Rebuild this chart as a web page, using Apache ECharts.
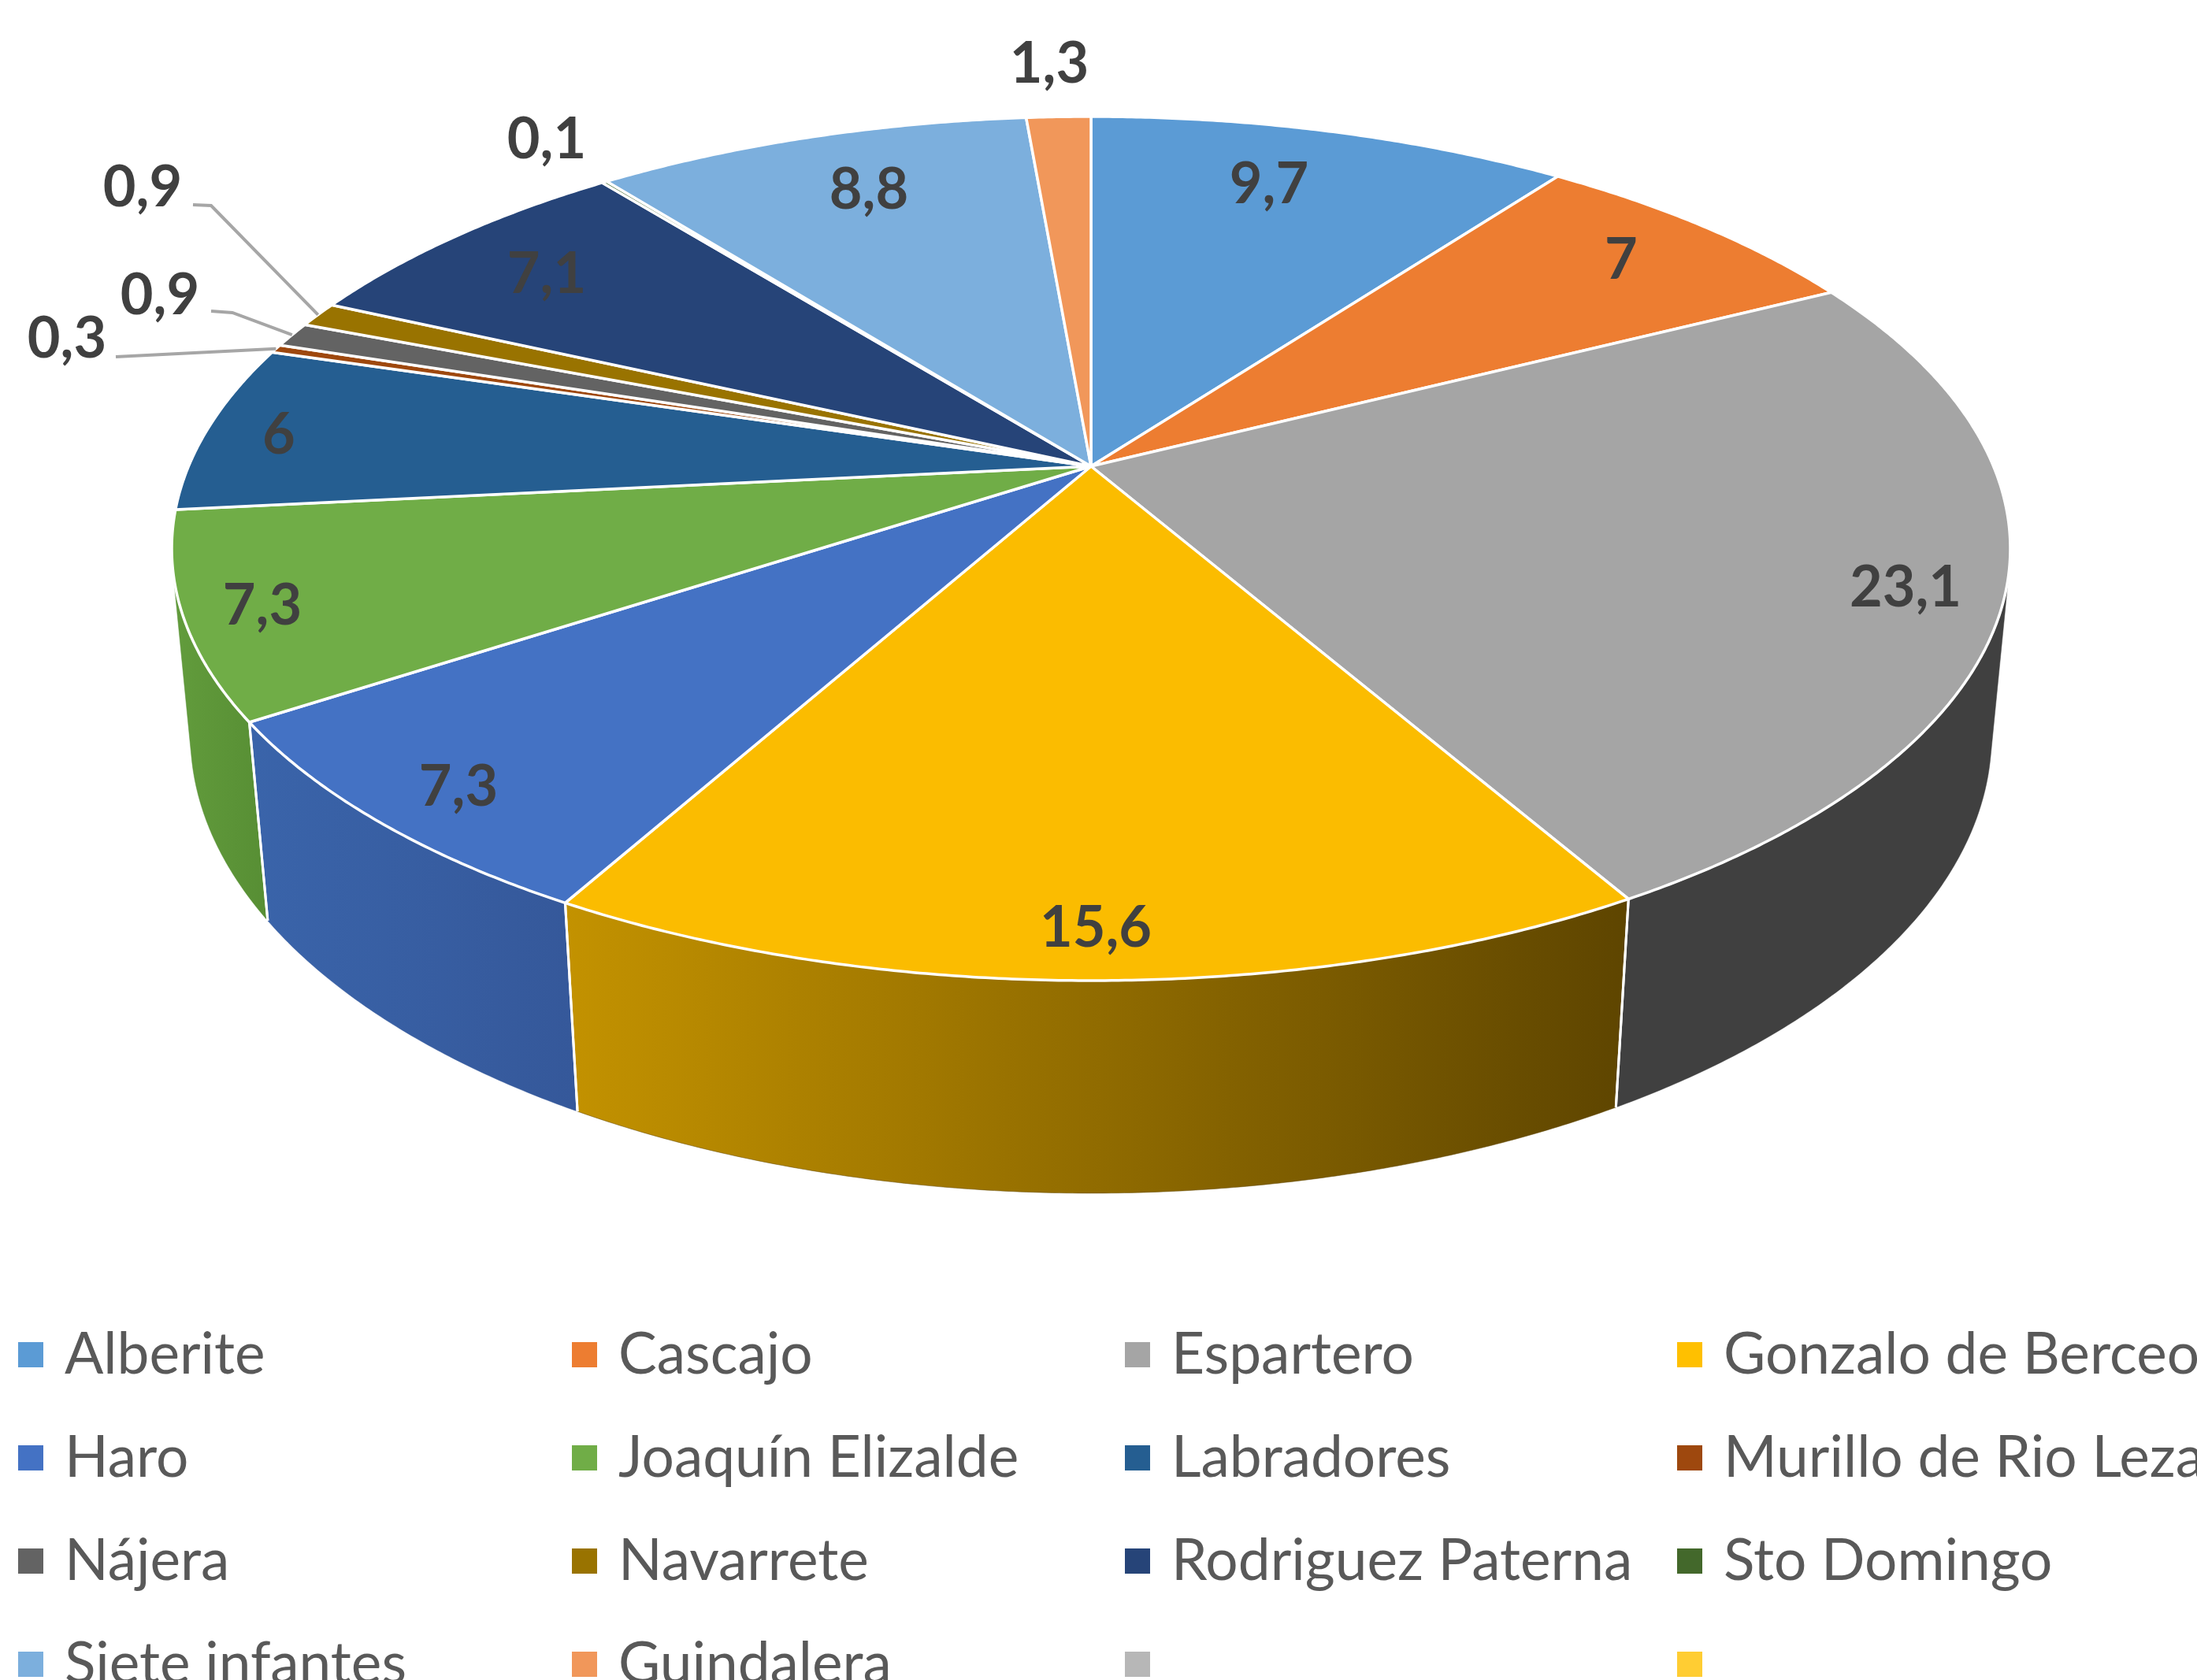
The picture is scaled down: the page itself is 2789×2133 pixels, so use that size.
<!DOCTYPE html>
<html><head><meta charset="utf-8">
<style>html,body{margin:0;padding:0;background:#fff;overflow:hidden}#c{width:2789px;height:2133px}</style>
<script src="https://cdn.jsdelivr.net/npm/echarts@6/dist/echarts.min.js"></script>
</head><body><div id="c"></div>
<script>
const categories = ['Alberite','Cascajo','Espartero','Gonzalo de Berceo','Haro','Joaquín Elizalde','Labradores','Murillo de Rio Leza','Nájera','Navarrete','Rodriguez Paterna','Sto Domingo','Siete infantes','Guindalera'];
const values = [9.7,7,23.1,15.6,7.3,7.3,6,0.3,0.9,0.9,7.1,0.1,8.8,1.3];
const blankLegendNames = ['\u00A0','\u00A0\u00A0'];
const blankLegendColors = ['#B7B7B7','#FFCD33'];

const topColors = ['#5B9BD5','#ED7D31','#A5A5A5','#FBBC00','#4472C4','#70AD47','#255E91','#9E480E','#636363','#997300','#264478','#43682B','#7CAFDD','#F1975A'];
const legendColors = ['#5B9BD5','#ED7D31','#A5A5A5','#FFC000','#4472C4','#70AD47','#255E91','#9E480E','#636363','#997300','#264478','#43682B','#7CAFDD','#F1975A'];
const wallLeft  = ['#4A7FAE','#C26628','#404040','#C39200','#3A64AA','#629C3C','#1E4D77','#813B0C','#515151','#7D5E00','#1F3862','#375523','#6590B5','#C57B4A'];
const wallRight = ['#4A7FAE','#C26628','#404040','#5E4500','#35589A','#578E34','#1E4D77','#813B0C','#515151','#7D5E00','#1F3862','#375523','#6590B5','#C57B4A'];

// perspective of the pie disc
const CX=1385, CY=592, A=1145.6, B=528.6, K=0.1905, DEPTH=237, DW=0.02;
const total = values.reduce((s,v)=>s+v,0);
// the wall is seen only between the two tangents from the vertical vanishing point
const VIS_R = Math.acos(-(DW*B/DEPTH + K)), VIS_L = 2*Math.PI - VIS_R;
function proj(t, r, low){
  const X=r*Math.sin(t), Y=-r*Math.cos(t), w=1-K*Y+(low?DW:0);
  return [CX+A*X/w, CY+(B*Y+(low?DEPTH:0))/w];
}
function arc(t0,t1,r,low){
  const n=Math.max(2,Math.ceil((t1-t0)/0.006)), p=[];
  for(let i=0;i<=n;i++) p.push(proj(t0+(t1-t0)*i/n,r,low));
  return p;
}
const labelAnchors = [[1611,235],[2058,331],[2419,747],[1391,1179],[582,1000],[333,770],[354,553],[85,431],[203,376],[181,239],[694,349],[694,178],[1103,242],[1332,82]];
const leaders = {7:[[147,453]], 8:[[268,395],[295,397]], 9:[[245,260],[268,261]]};
const legendColumns = [
  [categories[0],categories[4],categories[8],categories[12]],
  [categories[1],categories[5],categories[9],categories[13]],
  [categories[2],categories[6],categories[10],blankLegendNames[0]],
  [categories[3],categories[7],categories[11],blankLegendNames[1]]
];
const legendLeft = [23,726,1428,2129];

let cum=0;
const series = categories.map((name,i)=>{
  const start=cum; cum+=values[i];
  return {
    type:'custom', name, coordinateSystem:'none', silent:true, animation:false, clip:false,
    itemStyle:{color:legendColors[i]},
    data:[[values[i],start]],
    renderItem(params,api){
      const v=api.value(0), s=api.value(1);
      const t0=s/total*2*Math.PI, t1=(s+v)/total*2*Math.PI;
      const top=arc(t0,t1,1,false);
      const children=[];
      const w0=Math.max(t0,VIS_R), w1=Math.min(t1,VIS_L);
      if(w1>w0){
        const wt=arc(w0,w1,1,false), wl=arc(w0,w1,1,true);
        const xs=wl.concat(wt).map(p=>p[0]);
        children.push({type:'polygon',z2:10,shape:{points:wt.concat(wl.slice().reverse())},
          style:{fill:new echarts.graphic.LinearGradient(Math.min(...xs),0,Math.max(...xs),0,
            [{offset:0,color:wallLeft[i]},{offset:1,color:wallRight[i]}],true),stroke:wallRight[i],lineWidth:0.5}});
        [t0,t1].forEach(e=>{
          if(e>=VIS_R && e<=VIS_L){
            const a=proj(e,1,false), b=proj(e,1,true);
            children.push({type:'line',z2:11,shape:{x1:a[0],y1:a[1],x2:b[0],y2:b[1]},
              style:{stroke:'#FFFFFF',lineWidth:3}});
          }
        });
      }
      children.push({type:'polygon',z2:200,shape:{points:[proj(0,0,false)].concat(top)},
        style:{fill:topColors[i],stroke:'#FFFFFF',lineWidth:3.5,lineJoin:'round'}});
      if(leaders[i]){
        const pts=leaders[i].concat([proj((t0+t1)/2,1,false)]);
        children.push({type:'polyline',z2:300,shape:{points:pts},style:{fill:null,stroke:'#A6A6A6',lineWidth:4}});
      }
      children.push({type:'text',z2:400,x:labelAnchors[i][0],y:labelAnchors[i][1],
        style:{text:String(v).replace('.',','),x:0,y:0,textAlign:'center',textVerticalAlign:'middle',
          font:'bold 72px Lato',fill:'#404040'}});
      return {type:'group',children};
    }
  };
});
blankLegendNames.forEach((name,i)=>{
  series.push({type:'custom',name,coordinateSystem:'none',silent:true,animation:false,
    itemStyle:{color:blankLegendColors[i]},data:[[0]],renderItem(){return {type:'group',children:[]};}});
});

const chart=echarts.init(document.getElementById('c'),null,{renderer:'canvas',width:2789,height:2133});
chart.setOption({
  animation:false,
  backgroundColor:'#FFFFFF',
  legend:legendColumns.map((col,j)=>({
    data:col.map(n=>({name:n,icon:'rect'})),
    orient:'vertical',left:legendLeft[j],top:1680,width:1000,height:700,padding:0,
    itemWidth:32,itemHeight:32,itemGap:51,selectedMode:false,align:'left',
    textStyle:{fontFamily:'Lato',fontSize:73,color:'#595959',lineHeight:80,padding:[0,0,0,22]}
  })),
  series
});
</script></body></html>
